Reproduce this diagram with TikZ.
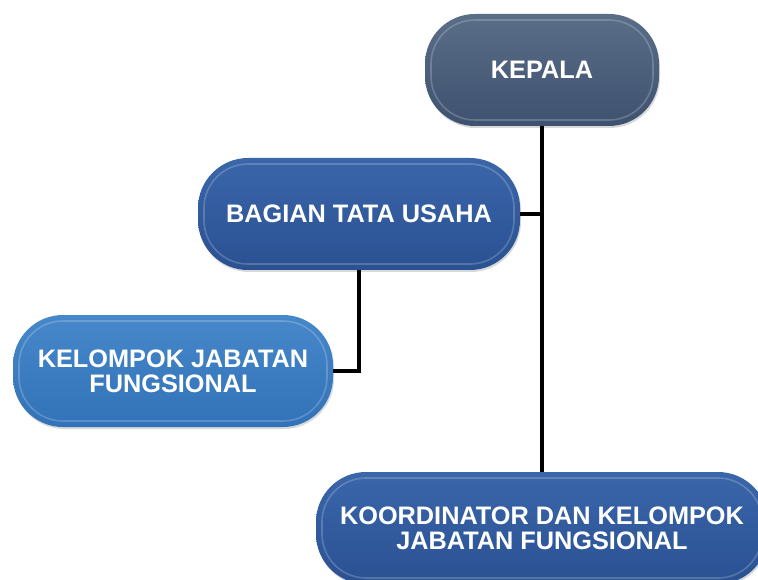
\documentclass[tikz,border=0pt]{standalone}
\usepackage{fontspec}
\setmainfont{Liberation Sans}
\usetikzlibrary{shadows}
\definecolor{kept}{HTML}{5A6E88}
\definecolor{kepb}{HTML}{3E5270}
\definecolor{blut}{HTML}{3A66AA}
\definecolor{blub}{HTML}{2A5192}
\definecolor{ltt}{HTML}{4688CA}
\definecolor{ltb}{HTML}{3272B8}
\tikzset{
  pill/.style={rectangle, rounded corners=50pt, minimum height=112pt,
    text=white, font=\bfseries\fontsize{25.3}{25}\selectfont, align=center,
    drop shadow={shadow xshift=1pt, shadow yshift=-2pt, opacity=0.3},
    path picture={
      \draw[white, opacity=0.2, line width=1.6pt, rounded corners=44pt]
        ([shift={(6pt,-6pt)}]path picture bounding box.north west) rectangle
        ([shift={(-6pt,6pt)}]path picture bounding box.south east);
    }},
  kepstyle/.style={pill, top color=kept, bottom color=kepb},
  blustyle/.style={pill, top color=blut, bottom color=blub},
  ltstyle/.style={pill, top color=ltt, bottom color=ltb},
  conn/.style={line width=3.5pt, black}
}
\begin{document}
\begin{tikzpicture}[x=1pt,y=-1pt]
\useasboundingbox (0,0) rectangle (758,580);
\clip (0,0) rectangle (758,580);
\node[kepstyle, minimum width=234pt] (kep) at (542,70) {KEPALA};
\node[blustyle, minimum width=322pt] (bag) at (359,214) {BAGIAN TATA USAHA};
\node[ltstyle, minimum width=320pt] (kel) at (173,371) {KELOMPOK JABATAN\\FUNGSIONAL};
\node[blustyle, minimum width=452pt] (koo) at (542,528) {KOORDINATOR DAN KELOMPOK\\JABATAN FUNGSIONAL};
\draw[conn] (kep.south) -- (koo.north);
\draw[conn] (bag.east) -- (bag.east -| kep.south);
\draw[conn] (bag.south) |- (kel.east);
\end{tikzpicture}
\end{document}
